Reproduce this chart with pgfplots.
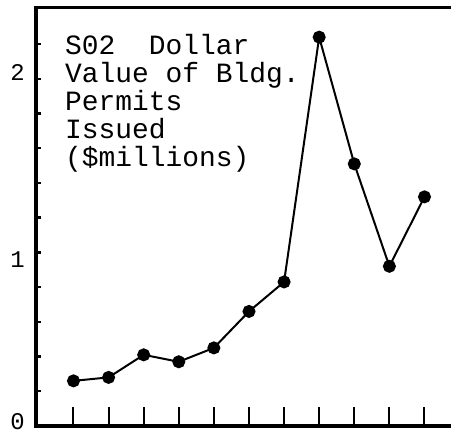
\documentclass[border=0pt]{standalone}
\usepackage{fontspec}
\setmainfont{Liberation Mono}
\usepackage{pgfplots}
\pgfplotsset{compat=1.18}
\begin{document}
\begin{tikzpicture}
\useasboundingbox (-36bp,-6bp) rectangle (415bp,426bp);
\begin{axis}[
  scale only axis,
  width=430bp, height=418bp,
  xmin=-0.068, xmax=12.183,
  ymin=0, ymax=2.408,
  axis line style={line width=3bp},
  tick align=inside,
  xtick={1,...,11}, xticklabels={},
  ytick={0,1,2},
  yticklabels={\smash{\raisebox{-3bp}{0}}, \smash{\raisebox{-15bp}{1}}, \smash{\raisebox{-2bp}{2}}},
  minor ytick={0.2,0.4,0.6,0.8,1.2,1.4,1.6,1.8,2.2},
  xtick pos=bottom, ytick pos=left,
  major tick length=5bp, minor tick length=5bp,
  every tick/.style={black, line width=2.4bp},
  x tick style={line width=2bp, /pgfplots/major tick length=19bp},
  yticklabel style={font=\fontsize{24}{24}\selectfont, inner sep=0pt, xshift=-11bp},
  /pgf/number format/assume math mode=true,
]
% S02 building permit value, $ millions
\addplot[black, line width=2bp, mark=*, mark size=5.5bp]
  coordinates {(1,0.26)(2,0.28)(3,0.41)(4,0.37)(5,0.45)(6,0.66)(7,0.83)(8,2.24)(9,1.51)(10,0.92)(11,1.32)};

\begin{scope}[every node/.style={anchor=base west, inner sep=0pt, font=\fontsize{28}{28}\selectfont}]
\node at ([xshift=29bp, yshift=-47bp] rel axis cs:0,1) {S02~~Dollar};
\node at ([xshift=29bp, yshift=-75bp] rel axis cs:0,1) {Value of Bldg.};
\node at ([xshift=29bp, yshift=-103bp] rel axis cs:0,1) {Permits};
\node at ([xshift=29bp, yshift=-131bp] rel axis cs:0,1) {Issued};
\node at ([xshift=29bp, yshift=-159bp] rel axis cs:0,1) {(\$millions)};
\end{scope}
\end{axis}
\end{tikzpicture}
\end{document}
